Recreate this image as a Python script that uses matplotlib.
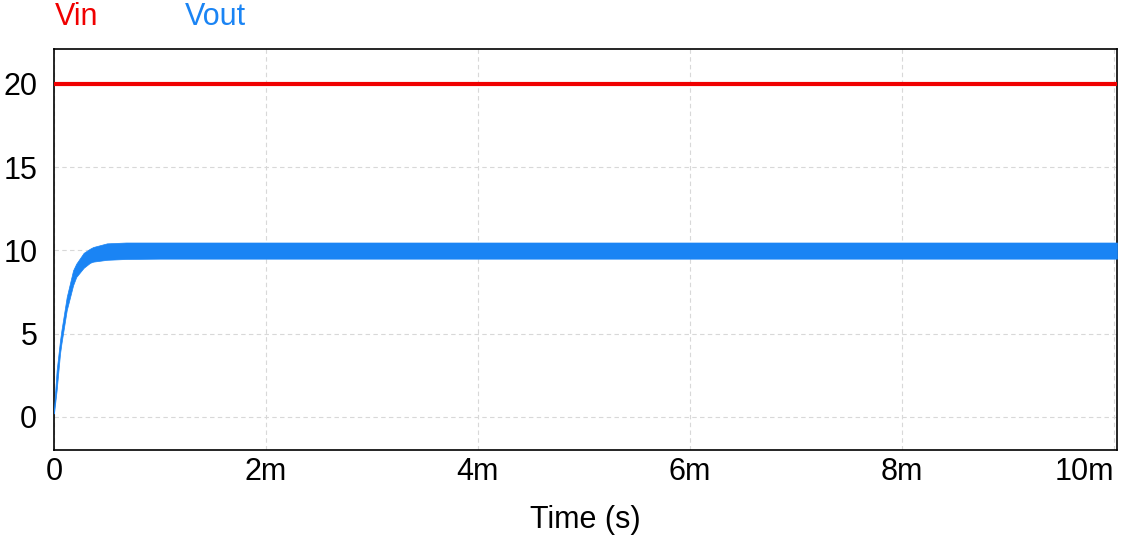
import numpy as np
import matplotlib.pyplot as plt

plt.rcParams['font.family'] = ['Liberation Sans', 'DejaVu Sans']

# Vin: constant input voltage
t_vin = [0.0, 10.03e-3]
vin = [20.0, 20.0]

# Vout: ripple band envelope (time in s, volts)
t_env = [0.0, 0.025e-3, 0.057e-3, 0.07e-3, 0.12e-3, 0.18e-3, 0.21e-3, 0.28e-3,
         0.34e-3, 0.37e-3, 0.5e-3, 0.68e-3, 1.0e-3, 10.03e-3]
vout_hi = [0.5, 2.8, 4.6, 5.2, 7.2, 8.8, 9.2, 9.85, 10.1, 10.2, 10.42, 10.47, 10.47, 10.47]
vout_lo = [0.2, 1.6, 3.8, 4.4, 6.4, 7.9, 8.4, 8.95, 9.25, 9.32, 9.43, 9.48, 9.5, 9.5]

xticks = [0, 2e-3, 4e-3, 6e-3, 8e-3, 10e-3]
xlabels = ['0', '2m', '4m', '6m', '8m', '10m']
yticks = [0, 5, 10, 15, 20]

fig = plt.figure(figsize=(11.32, 5.41), dpi=100)
ax = fig.add_axes([54 / 1132, 1 - 450 / 541, (1117 - 54) / 1132, (450 - 49) / 541])

ax.plot(t_vin, vin, color='#f00000', lw=3.0, zorder=3)
ax.fill_between(t_env, vout_lo, vout_hi, color='#1a84f4', lw=0.5, edgecolor='#1a84f4', zorder=3)

ax.set_xlim(0, 10.03e-3)
ax.set_ylim(-2, 22.1)
ax.set_xticks(xticks)
ax.set_xticklabels(xlabels)
ax.set_yticks(yticks)
ax.tick_params(length=0, labelsize=22)
ax.tick_params(axis='y', pad=12)
ax.tick_params(axis='x', pad=5)
ax.get_xticklabels()[-1].set_ha('right')
ax.get_xticklabels()[-1].set_x(10.03e-3)
ax.grid(True, color='#d8d8d8', ls=(0, (4, 3)), lw=0.8)
for s in ax.spines.values():
    s.set_color('black')
    s.set_linewidth(1.2)

ax.set_xlabel('Time (s)', fontsize=22, labelpad=13)

# series names above the plot
fig.text(55 / 1132, 1 - 17 / 541, 'Vin', color='#f00000', fontsize=22, va='center', ha='left')
fig.text(185 / 1132, 1 - 17 / 541, 'Vout', color='#1a84f4', fontsize=22, va='center', ha='left')

fig.savefig('out.png', dpi=100)
